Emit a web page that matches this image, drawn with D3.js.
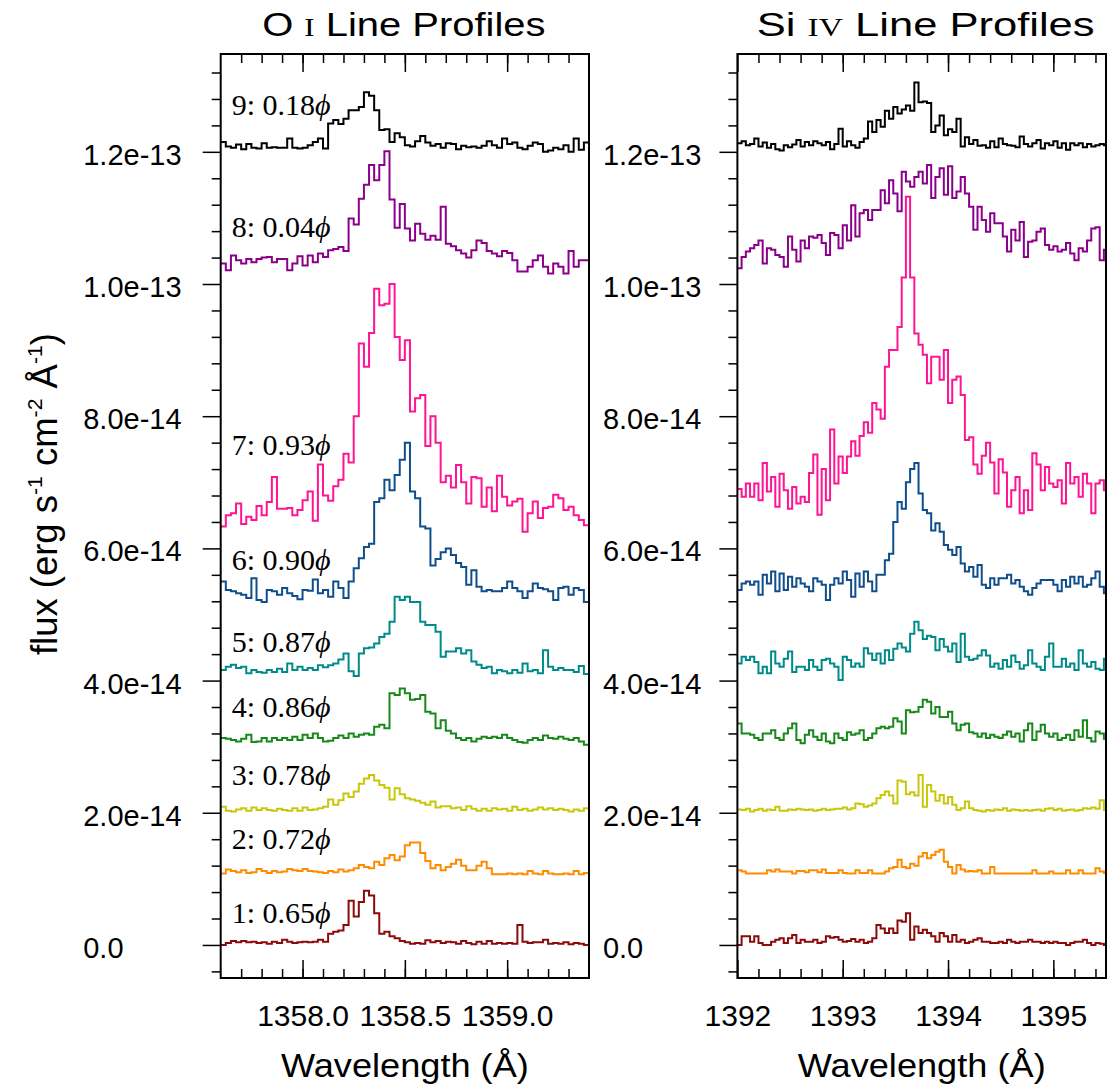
<!DOCTYPE html>
<html>
<head>
<meta charset="utf-8">
<script src="https://cdn.jsdelivr.net/npm/d3@7"></script>
<style>
  body { margin: 0; background: #fff; }
  svg { display: block; }
</style>
</head>
<body>
<div id="svg-container"></div>
<script>
// flux values are in units of 1e-14 erg s-1 cm-2 A-1
// O I panel: bins of 0.025 A starting at 1357.6
const oiStart = 1357.6
const oiStep = 0.025
const oi1 = [0.0,0.03,0.06,0.04,0.06,0.04,0.05,0.03,0.04,0.02,
  0.05,0.03,0.08,0.05,0.03,0.04,0.05,0.04,0.05,0.08,
  0.05,0.17,0.2,0.22,0.3,0.67,0.43,0.65,0.82,0.75,
  0.48,0.17,0.2,0.13,0.1,0.06,0.04,0.02,0.03,0.02,
  0.07,0.04,0.06,0.03,0.05,0.04,0.02,0.06,0.03,0.01,
  0.05,0.02,0.06,0.02,0.03,0.02,0.03,0.02,0.3,0.05,
  0.03,0.04,0.04,0.08,0.02,0.03,0.02,0.04,0.01,0.03,
  0.02,0.0]
const oi2 = [1.08,1.14,1.12,1.1,1.13,1.09,1.1,1.15,1.12,1.09,
  1.12,1.1,1.11,1.15,1.13,1.12,1.15,1.12,1.11,1.1,
  1.09,1.12,1.1,1.14,1.11,1.13,1.16,1.21,1.18,1.16,
  1.26,1.21,1.31,1.36,1.28,1.34,1.51,1.55,1.55,1.39,
  1.27,1.16,1.21,1.13,1.18,1.23,1.29,1.2,1.13,1.13,
  1.2,1.26,1.16,1.07,1.07,1.07,1.08,1.07,1.08,1.07,
  1.12,1.08,1.07,1.12,1.08,1.07,1.07,1.08,1.07,1.12,
  1.07,1.09]
const oi3 = [2.09,2.03,2.02,2.05,2.07,2.03,2.08,2.04,2.07,2.04,
  2.03,2.06,2.04,2.03,2.07,2.03,2.08,2.04,2.05,2.07,
  2.09,2.2,2.12,2.19,2.29,2.24,2.32,2.44,2.52,2.57,
  2.49,2.42,2.38,2.2,2.37,2.28,2.22,2.2,2.18,2.15,
  2.12,2.17,2.08,2.1,2.1,2.07,2.08,2.04,2.1,2.06,
  2.03,2.06,2.03,2.07,2.05,2.06,2.03,2.09,2.04,2.06,
  2.03,2.05,2.08,2.05,2.07,2.04,2.06,2.04,2.02,2.05,
  2.03,2.07]
const oi4 = [3.13,3.12,3.1,3.08,3.12,3.18,3.07,3.08,3.13,3.08,
  3.13,3.1,3.13,3.1,3.15,3.1,3.18,3.13,3.2,3.13,
  3.08,3.09,3.13,3.17,3.13,3.2,3.15,3.18,3.2,3.18,
  3.3,3.33,3.28,3.81,3.78,3.88,3.81,3.71,3.72,3.78,
  3.53,3.5,3.28,3.4,3.24,3.2,3.13,3.1,3.13,3.08,
  3.12,3.15,3.13,3.15,3.13,3.18,3.13,3.1,3.07,3.06,
  3.1,3.13,3.1,3.17,3.13,3.12,3.15,3.12,3.1,3.13,
  3.08,3.03]
const oi5 = [4.16,4.21,4.24,4.19,4.21,4.11,4.16,4.13,4.12,4.16,
  4.13,4.18,4.13,4.26,4.16,4.21,4.16,4.19,4.16,4.23,
  4.2,4.23,4.26,4.32,4.41,4.14,4.07,4.41,4.49,4.5,
  4.56,4.66,4.71,4.89,5.27,5.22,5.27,5.19,5.19,4.89,
  4.84,4.84,4.74,4.36,4.44,4.44,4.49,4.41,4.46,4.29,
  4.24,4.19,4.21,4.11,4.16,4.14,4.11,4.16,4.12,4.26,
  4.14,4.16,4.11,4.46,4.21,4.16,4.19,4.16,4.16,4.13,
  4.22,4.1]
const oi6 = [5.5,5.37,5.35,5.32,5.3,5.25,5.55,5.22,5.19,5.37,
  5.35,5.3,5.4,5.32,5.28,5.23,5.37,5.36,5.53,5.32,
  5.37,5.27,5.5,5.4,5.25,5.5,5.7,5.85,6.02,6.07,
  6.7,6.76,7.04,6.88,7.11,7.34,7.6,6.86,6.76,6.33,
  6.3,5.74,5.84,5.94,6.0,5.9,5.78,5.72,5.45,5.67,
  5.42,5.35,5.37,5.35,5.35,5.4,5.5,5.4,5.35,5.25,
  5.35,5.47,5.4,5.38,5.35,5.22,5.4,5.42,5.3,5.4,
  5.37,5.19]
const oi7 = [6.33,6.5,6.53,6.68,6.37,6.48,6.43,6.64,6.5,6.7,
  7.08,6.6,6.6,6.61,6.5,6.58,6.73,6.86,6.42,7.27,
  6.8,6.72,6.94,7.04,7.43,7.3,8.0,9.1,8.75,9.26,
  9.93,9.68,9.7,10.0,9.2,8.85,9.15,8.07,8.27,8.32,
  7.55,8.0,7.6,7.0,7.1,6.92,7.26,7.0,6.68,7.08,
  7.06,6.63,6.92,6.56,7.1,6.78,6.65,6.71,6.75,6.25,
  6.53,6.71,6.46,6.61,6.63,6.81,6.76,6.58,6.63,6.5,
  6.43,6.35]
const oi8 = [10.31,10.21,10.43,10.36,10.31,10.38,10.33,10.38,10.4,10.41,
  10.33,10.38,10.38,10.21,10.31,10.42,10.28,10.43,10.33,10.46,
  10.41,10.51,10.53,10.56,10.5,10.99,10.9,11.29,11.5,11.8,
  11.57,11.8,12.01,11.28,10.85,11.21,10.84,10.66,10.91,10.76,
  10.67,10.73,10.67,11.17,10.61,10.57,10.51,10.46,10.4,10.51,
  10.66,10.62,10.5,10.46,10.42,10.5,10.47,10.36,10.19,10.19,
  10.26,10.36,10.43,10.26,10.16,10.31,10.26,10.16,10.5,10.26,
  10.36,10.36]
const oi9 = [12.15,12.08,12.06,12.11,12.04,12.12,12.06,12.05,12.13,12.06,
  12.07,12.06,12.06,12.2,12.06,12.05,12.06,12.1,12.15,12.2,
  12.05,12.43,12.48,12.42,12.5,12.63,12.63,12.68,12.9,12.85,
  12.63,12.33,12.34,12.15,12.28,12.22,12.1,12.08,12.16,12.24,
  12.14,12.09,12.12,12.06,12.13,12.12,12.04,12.09,12.07,12.08,
  12.06,12.09,12.16,12.1,12.06,12.2,12.12,12.14,12.06,12.04,
  12.09,12.14,12.12,12.0,12.02,12.06,12.04,12.1,12.0,12.2,
  12.03,12.14]

// Si IV panel: bins of 0.04 A starting at 1392.0
const siStart = 1392.0
const siStep = 0.04
const si1 = [0.0,0.13,0.13,0.05,0.13,0.03,0.0,0.0,0.05,0.08,
  0.1,0.03,0.1,0.15,0.03,0.08,0.05,0.05,0.08,0.03,
  0.05,0.13,0.11,0.12,0.08,0.05,0.06,0.09,0.05,0.08,
  0.03,0.05,0.1,0.3,0.25,0.18,0.25,0.18,0.37,0.35,
  0.48,0.08,0.28,0.18,0.23,0.18,0.13,0.05,0.18,0.13,
  0.05,0.15,0.05,0.08,0.03,0.05,0.08,0.1,0.05,0.05,
  0.03,0.03,0.05,0.03,0.08,0.05,0.03,0.05,0.05,0.08,
  0.05,0.05,0.03,0.05,0.03,0.05,0.03,0.03,0.0,0.03,
  0.05,0.05,0.08,0.03,0.0,0.03,0.02,0.0]
const si2 = [1.13,1.11,1.08,1.08,1.08,1.08,1.08,1.13,1.11,1.14,
  1.11,1.11,1.11,1.08,1.12,1.12,1.1,1.13,1.13,1.1,
  1.14,1.09,1.09,1.09,1.13,1.09,1.08,1.08,1.13,1.09,
  1.09,1.13,1.08,1.08,1.08,1.11,1.16,1.18,1.29,1.18,
  1.16,1.23,1.2,1.34,1.39,1.31,1.36,1.41,1.44,1.26,
  1.18,1.08,1.21,1.14,1.11,1.12,1.11,1.13,1.08,1.08,
  1.18,1.08,1.08,1.08,1.08,1.08,1.08,1.08,1.08,1.08,
  1.13,1.08,1.08,1.08,1.11,1.08,1.08,1.08,1.13,1.08,
  1.08,1.13,1.08,1.08,1.08,1.16,1.11,1.09]
const si3 = [2.05,2.04,2.06,2.02,2.04,2.06,2.03,2.05,2.04,2.09,
  2.03,2.03,2.05,2.04,2.06,2.05,2.04,2.05,2.03,2.04,
  2.06,2.04,2.05,2.06,2.06,2.08,2.05,2.07,2.14,2.13,
  2.09,2.11,2.14,2.22,2.27,2.32,2.26,2.14,2.49,2.47,
  2.28,2.31,2.26,2.57,2.09,2.42,2.32,2.18,2.27,2.14,
  2.24,2.12,2.04,2.07,2.17,2.07,2.04,2.03,2.02,2.04,
  2.03,2.05,2.04,2.07,2.03,2.05,2.04,2.03,2.04,2.03,
  2.04,2.05,2.03,2.06,2.07,2.04,2.06,2.03,2.04,2.05,
  2.03,2.04,2.07,2.06,2.08,2.06,2.19,2.04]
const si4 = [3.35,3.2,3.2,3.18,3.13,3.1,3.2,3.2,3.25,3.13,
  3.1,3.2,3.28,3.35,3.1,3.05,3.18,3.25,3.15,3.1,
  3.2,3.08,3.05,3.2,3.13,3.1,3.22,3.18,3.2,3.25,
  3.1,3.13,3.2,3.28,3.3,3.28,3.3,3.43,3.38,3.2,
  3.55,3.52,3.53,3.6,3.71,3.68,3.5,3.6,3.45,3.45,
  3.53,3.35,3.25,3.33,3.35,3.22,3.2,3.15,3.2,3.13,
  3.18,3.15,3.13,3.18,3.23,3.15,3.2,3.08,3.25,3.35,
  3.1,3.23,3.33,3.2,3.15,3.2,3.1,3.13,3.18,3.1,
  3.25,3.15,3.4,3.13,3.08,3.23,3.2,3.12]
const si5 = [4.26,4.36,4.31,4.36,4.28,4.11,4.21,4.11,4.44,4.26,
  4.21,4.33,4.44,4.13,4.21,4.21,4.16,4.31,4.21,4.16,
  4.31,4.33,4.26,4.21,4.01,4.36,4.31,4.21,4.26,4.21,
  4.49,4.41,4.31,4.41,4.26,4.46,4.31,4.48,4.56,4.5,
  4.44,4.71,4.89,4.76,4.63,4.68,4.66,4.46,4.63,4.51,
  4.44,4.56,4.28,4.71,4.36,4.31,4.33,4.38,4.46,4.38,
  4.21,4.26,4.18,4.31,4.21,4.38,4.28,4.18,4.23,4.46,
  4.26,4.21,4.16,4.36,4.56,4.21,4.21,4.33,4.21,4.26,
  4.16,4.46,4.26,4.21,4.28,4.18,4.16,4.33]
const si6 = [5.37,5.47,5.5,5.45,5.5,5.3,5.6,5.47,5.65,5.35,
  5.62,5.37,5.57,5.42,5.55,5.47,5.42,5.35,5.55,5.5,
  5.45,5.22,5.45,5.55,5.47,5.65,5.52,5.27,5.62,5.42,
  5.65,5.5,5.35,5.6,5.6,5.82,5.92,6.4,6.7,6.6,
  7.0,7.2,7.29,6.83,6.58,6.53,6.27,6.38,6.25,6.05,
  5.98,5.9,6.02,5.77,5.65,5.72,5.57,5.75,5.45,5.4,
  5.55,5.45,5.55,5.55,5.6,5.47,5.52,5.42,5.35,5.3,
  5.4,5.47,5.52,5.52,5.52,5.45,5.35,5.52,5.42,5.57,
  5.47,5.57,5.42,5.45,5.55,5.65,5.42,5.32]
const si7 = [6.9,6.78,6.98,6.78,6.98,6.73,7.29,6.86,7.08,6.63,
  7.13,6.88,6.6,6.93,6.68,6.78,6.7,7.14,7.42,6.51,
  7.2,6.73,7.8,6.98,7.39,7.14,7.39,7.62,7.4,7.7,
  7.91,7.75,8.2,8.1,7.96,8.75,9.0,9.0,9.35,10.1,
  11.32,10.1,9.25,9.08,8.93,8.5,8.9,8.9,8.55,9.0,
  8.2,8.55,8.6,8.32,7.64,7.68,7.27,7.13,7.4,7.6,
  7.3,6.83,7.35,7.15,6.63,6.88,7.08,6.53,6.88,6.58,
  7.44,7.27,6.88,7.23,6.98,6.93,7.03,6.68,7.29,6.98,
  7.08,6.78,7.13,6.98,6.53,6.98,7.03,6.88]
const si8 = [10.24,10.41,10.49,10.54,10.59,10.66,10.31,10.54,10.52,10.44,
  10.41,10.26,10.72,10.52,10.34,10.66,10.54,10.72,10.7,10.74,
  10.62,10.44,10.77,10.74,10.54,10.89,10.66,11.19,10.72,11.07,
  11.12,10.97,11.12,11.12,11.42,11.22,11.57,11.37,11.1,11.7,
  11.55,11.47,11.62,11.7,11.52,11.8,11.3,11.62,11.75,11.35,
  11.78,11.3,11.4,11.62,11.37,11.17,10.82,11.17,10.97,10.79,
  11.07,10.92,10.92,10.72,10.49,10.82,10.66,10.94,10.41,10.64,
  10.66,10.79,10.84,10.59,10.52,10.57,10.49,10.52,10.62,10.46,
  10.36,10.54,10.49,10.66,10.84,10.86,10.36,10.52]
const si9 = [12.13,12.16,12.1,12.12,12.2,12.08,12.14,12.06,12.12,12.04,
  12.02,12.1,12.07,12.11,12.18,12.08,12.15,12.1,12.16,12.13,
  12.1,12.15,12.04,12.12,12.35,12.08,12.16,12.1,12.06,12.15,
  12.2,12.46,12.3,12.48,12.38,12.62,12.5,12.68,12.58,12.64,
  12.7,12.62,13.05,12.75,12.76,12.74,12.3,12.4,12.55,12.25,
  12.34,12.3,12.5,12.08,12.22,12.12,12.18,12.09,12.1,12.06,
  12.16,12.07,12.2,12.12,12.1,12.09,12.07,12.23,12.12,12.08,
  12.13,12.18,12.05,12.13,12.1,12.16,12.06,12.13,12.03,12.13,
  12.1,12.13,12.07,12.12,12.08,12.1,12.12,12.1]

// observation labels (1..9) and phases
const obsNumbers = ['1', '2', '3', '4', '5', '6', '7', '8', '9']
const phases = ['0.65', '0.72', '0.78', '0.86', '0.87', '0.90', '0.93', '0.04', '0.18']
// flux level (1e-14) where each label sits
const labelLevels = [0.33, 1.45, 2.42, 3.45, 4.43, 5.67, 7.41, 10.71, 12.55]
const colors = ['#8b0a0a', '#ff8c00', '#c8c80a', '#17891a', '#008b8b', '#104e8b', '#ff1493', '#8b008b', '#000000']

// axes
const fluxDomain = [-0.5, 13.48]
const fluxMajor = [0, 2, 4, 6, 8, 10, 12]
const fluxLabels = ['0.0', '2.0e-14', '4.0e-14', '6.0e-14', '8.0e-14', '1.0e-13', '1.2e-13']
const fluxMinor = d3.range(-0.4, 13.4, 0.4).filter(v => Math.abs(v / 2 - Math.round(v / 2)) > 0.01)
const oiDomain = [1357.6, 1359.4]
const oiMajor = [1358.0, 1358.5, 1359.0]
const oiMinor = d3.range(1357.7, 1359.35, 0.1)
const siDomain = [1392, 1395.5]
const siMajor = [1392, 1393, 1394, 1395]
const siMinor = d3.range(1392.2, 1395.45, 0.2)

const width = 1110, height = 1092
const plotTop = 54, plotBottom = 978
const plotH = plotBottom - plotTop
const sans = 'Liberation Sans, Arial, Helvetica, sans-serif'
const serif = 'Liberation Serif, Times New Roman, serif'

const svg = d3.select('#svg-container').append('svg')
  .attr('width', width).attr('height', height)

function drawPanel(p) {
  const g = svg.append('g').attr('transform', `translate(${p.left}, ${plotTop})`)
  const x = d3.scaleLinear().domain(p.domain).range([0, p.width])
  const y = d3.scaleLinear().domain(fluxDomain).range([plotH, 0])

  g.append('clipPath').attr('id', p.id + '-clip')
    .append('rect').attr('width', p.width).attr('height', plotH)

  //step lijnen per spectrum
  const line = d3.line().x(d => x(d[0])).y(d => y(d[1])).curve(d3.curveStepAfter)
  p.series.forEach((vals, k) => {
    const pts = vals.map((v, i) => [p.start + i * p.step, v])
    pts.push([p.start + vals.length * p.step, vals[vals.length - 1]])
    g.append('path')
      .attr('d', line(pts))
      .attr('fill', 'none')
      .attr('stroke', colors[k])
      .attr('stroke-width', 2)
      .attr('clip-path', `url(#${p.id}-clip)`)
  })

  const styleAxis = (sel, size) => {
    sel.select('.domain').remove()
    sel.selectAll('line').attr('stroke', '#000').attr('stroke-width', 1.5)
    sel.attr('font-family', null).attr('font-size', null)
    sel.selectAll('text').attr('font-family', sans).attr('font-size', size).attr('fill', '#000')
  }

  // y as, labels links uitgelijnd
  g.append('g').call(d3.axisLeft(y).tickValues(fluxMinor).tickSize(9).tickFormat('')).call(styleAxis, 29)
  g.append('g').call(d3.axisLeft(y).tickValues(fluxMajor).tickSize(18)
    .tickFormat((d, i) => fluxLabels[i])).call(styleAxis, 29)
    .selectAll('text').attr('text-anchor', 'start').attr('x', p.yLabelX).attr('dy', '0.43em')

  // x as onder (ticks naar binnen)
  g.append('g').attr('transform', `translate(0, ${plotH})`)
    .call(d3.axisBottom(x).tickValues(p.minor).tickSize(-9).tickFormat('')).call(styleAxis, 30)
  g.append('g').attr('transform', `translate(0, ${plotH})`)
    .call(d3.axisBottom(x).tickValues(p.major).tickSize(-18).tickPadding(27).tickFormat(p.fmt)).call(styleAxis, 30)

  // x as boven
  g.append('g').call(d3.axisTop(x).tickValues(p.minor).tickSize(-9).tickFormat('')).call(styleAxis, 30)
  g.append('g').call(d3.axisTop(x).tickValues(p.major).tickSize(-18).tickFormat('')).call(styleAxis, 30)

  g.append('rect').attr('width', p.width).attr('height', plotH)
    .attr('fill', 'none').attr('stroke', '#000').attr('stroke-width', 2)

  // titel, iets breder getrokken zoals in het origineel
  const t = g.append('text')
    .attr('transform', `translate(${p.width / 2 + p.titleShift}, ${36 - plotTop}) scale(${p.titleScale}, 1)`)
    .attr('text-anchor', 'middle').attr('font-family', sans).attr('font-size', 32.5)
  t.append('tspan').text(p.title[0] + ' ')
  t.append('tspan').attr('font-family', serif).attr('font-size', 25).text(p.title[1])
  t.append('tspan').text(' Line Profiles')

  g.append('text')
    .attr('transform', `translate(${p.width / 2}, ${1077 - plotTop}) scale(1.08, 1)`)
    .attr('text-anchor', 'middle').attr('font-family', sans).attr('font-size', 33.5)
    .text('Wavelength (Å)')

  if (p.labels) {
    obsNumbers.forEach((n, k) => {
      const lt = g.append('text')
        .attr('x', x(1357.654)).attr('y', y(labelLevels[k]))
        .attr('font-family', serif).attr('font-size', 30).attr('fill', '#000')
      lt.append('tspan').text(n + ': ' + phases[k])
      lt.append('tspan').attr('font-style', 'italic').text('\u03d5')
    })
  }
}

drawPanel({ id: 'oi', left: 220.7, width: 368.3, domain: oiDomain, start: oiStart, step: oiStep,
  series: [oi1, oi2, oi3, oi4, oi5, oi6, oi7, oi8, oi9], major: oiMajor, minor: oiMinor,
  fmt: d3.format('.1f'), title: ['O', 'I'], titleScale: 1.23, titleShift: -1, labels: true, yLabelX: -137.5 })
drawPanel({ id: 'si', left: 737.4, width: 368.6, domain: siDomain, start: siStart, step: siStep,
  series: [si1, si2, si3, si4, si5, si6, si7, si8, si9], major: siMajor, minor: siMinor,
  fmt: d3.format('d'), title: ['Si', 'IV'], titleScale: 1.34, titleShift: 4, labels: false, yLabelX: -134.5 })

// y label
const yl = svg.append('text')
  .attr('transform', 'translate(57, 494) rotate(-90)')
  .attr('text-anchor', 'middle').attr('font-family', sans).attr('font-size', 36)
  .attr('textLength', 322).attr('lengthAdjust', 'spacingAndGlyphs')
yl.append('tspan').text('flux (erg s')
yl.append('tspan').attr('font-size', 21).attr('dy', -15).text('-1')
yl.append('tspan').attr('dy', 15).text(' cm')
yl.append('tspan').attr('font-size', 21).attr('dy', -15).text('-2')
yl.append('tspan').attr('dy', 15).text(' Å')
yl.append('tspan').attr('font-size', 21).attr('dy', -15).text('-1')
yl.append('tspan').attr('dy', 15).text(')')
</script>
</body>
</html>
